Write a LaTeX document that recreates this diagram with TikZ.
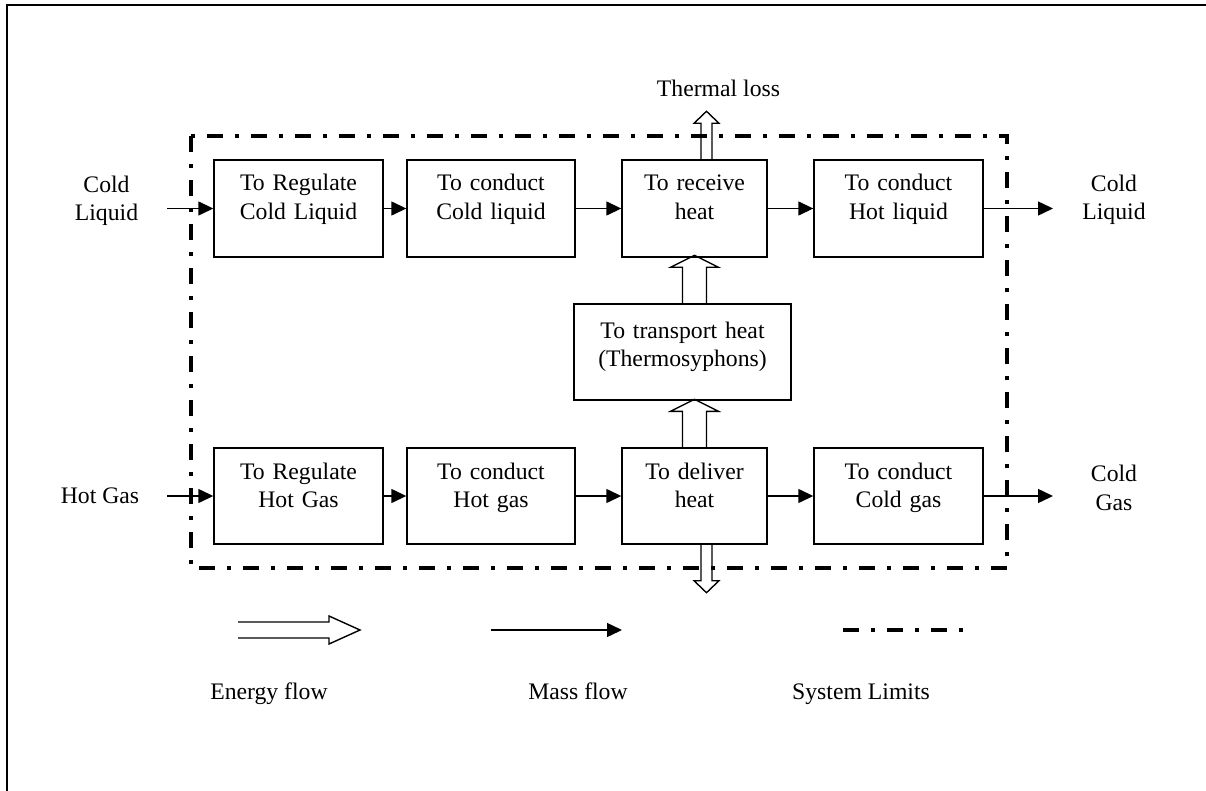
\documentclass[tikz,border=0pt]{standalone}
\usepackage{fontspec}
\setmainfont{Liberation Serif}
\usetikzlibrary{arrows.meta,calc}

\tikzset{
  fnbox/.style={draw, line width=1.4pt, align=center, inner sep=0pt,
    text width=#1, text height=31pt, text depth=66pt},
  mass/.style={line width=1.4pt, -{Triangle[length=15pt,width=14pt]}},
  limits/.style={line width=3.5pt, dash pattern=on 16pt off 12pt on 4pt off 12pt},
  energy/.style={draw, line width=1.4pt, line join=miter}
}
% start, angle, length, head length, half shaft, half head
\newcommand{\heatflow}[6]{%
  \draw[energy, shift={(#1)}, rotate=#2] (0,-#5) -- (#3-#4,-#5) -- (#3-#4,-#6)
    -- (#3,0) -- (#3-#4,#6) -- (#3-#4,#5) -- (0,#5);
}

\begin{document}
\begin{tikzpicture}[x=1pt, y=-1pt, font=\fontsize{23.7}{28.5}\selectfont]
  \useasboundingbox (0,0) rectangle (1206,791);
  \draw [line width=2pt] (7,792) -- (7,5) -- (1207,5);

  \coordinate (lin) at (167,208.5);
  \coordinate (lout) at (1053,208.5);
  \coordinate (gin) at (167,496);
  \coordinate (gout) at (1053,496);

  % upper row: liquid side
  \foreach \name / \x / \w / \txt in
  {
    rcl/298.5/169/{To Regulate\\Cold Liquid},
    ccl/491/168/{To conduct\\Cold liquid},
    rh/694.5/145/{To receive\\heat},
    chl/898.5/169/{To conduct\\Hot liquid}
  }
  {
   \node [fnbox=\w pt] (\name) at (\x,208.5) {\txt};
  }

  % lower row: gas side
  \foreach \name / \x / \w / \txt in
  {
    rhg/298.5/169/{To Regulate\\Hot Gas},
    chg/491/168/{To conduct\\Hot gas},
    dh/694.5/145/{To deliver\\heat},
    ccg/898.5/169/{To conduct\\Cold gas}
  }
  {
   \node [fnbox=\w pt, text depth=65pt] (\name) at (\x,496) {\txt};
  }

  \node [fnbox=217pt, text height=34pt, text depth=62pt] (tr) at (682.5,352)
    {To transport heat\\(Thermosyphons)};

  \foreach \a / \b in {lin/rcl, rcl/ccl, ccl/rh, rh/chl, chl/lout,
                       gin/rhg, rhg/chg, chg/dh, dh/ccg, ccg/gout}
  {
   \draw [mass] (\a) -- (\b);
  }

  \heatflow{dh.north}{90}{48}{12}{12}{24}
  \heatflow{rh.south |- tr.north}{90}{48}{12}{12}{24}
  \heatflow{$(rh.north)+(12,0)$}{90}{48}{12}{5.5}{12.5}
  \heatflow{$(dh.south)+(12,0)$}{-90}{48}{12}{5.5}{12.5}

  \draw [limits] (191,136) rectangle (1007,568);

  \node [align=center] (cl) at (106.5,201) {Cold\\Liquid};
  \node [align=center] (clo) at (1114,200) {Cold\\Liquid};
  \node (hg) at (100,496) {Hot Gas};
  \node [align=center] (cg) at (1114,488) {Cold\\Gas};
  \node (tl) at (718.5,88) {Thermal loss};

  % legend
  \coordinate (ef) at (238,630);
  \coordinate (mf0) at (491,630);
  \coordinate (mf1) at (622,630);
  \coordinate (sl0) at (843,630);
  \coordinate (sl1) at (965,630);
  \heatflow{ef}{0}{122}{31}{8}{14}
  \draw [mass] (mf0) -- (mf1);
  \draw [limits] (sl0) -- (sl1);
  \node [anchor=base] (eft) at (269,699) {Energy flow};
  \node [anchor=base] (mft) at (578,699) {Mass flow};
  \node [anchor=base] (slt) at (861,699) {System Limits};
\end{tikzpicture}
\end{document}
